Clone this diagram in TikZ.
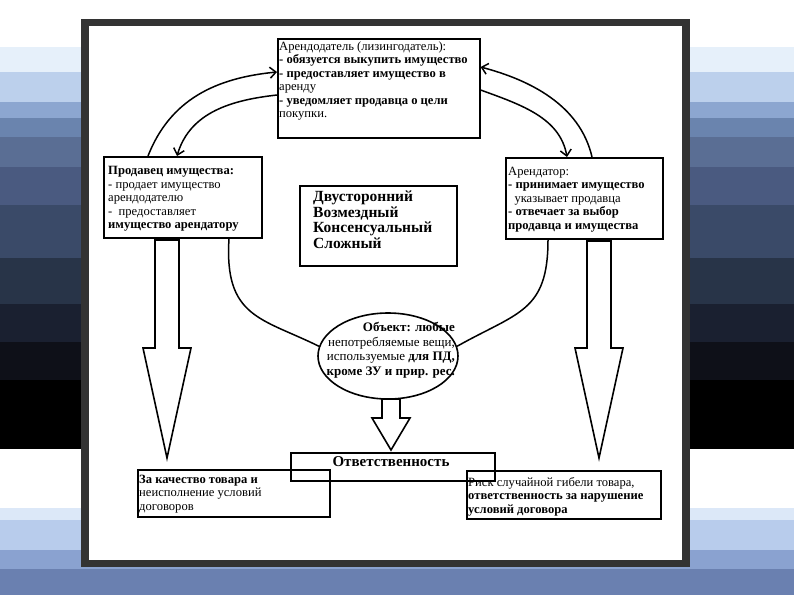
\documentclass[tikz,border=0pt]{standalone}
\usepackage{fontspec}
\setmainfont{Liberation Serif}
\usetikzlibrary{arrows.meta,shapes.geometric}
\definecolor{s1}{HTML}{E6F0FA}
\definecolor{s2}{HTML}{BCD0EC}
\definecolor{s3}{HTML}{8CA6D0}
\definecolor{s4}{HTML}{6A84AE}
\definecolor{s5}{HTML}{5A6E94}
\definecolor{s6}{HTML}{4A5A80}
\definecolor{s7}{HTML}{3A4A68}
\definecolor{s8}{HTML}{283448}
\definecolor{s9}{HTML}{1A2030}
\definecolor{s10}{HTML}{0E1018}
\definecolor{b1}{HTML}{DCE8F8}
\definecolor{b2}{HTML}{B8CCEC}
\definecolor{b3}{HTML}{8AA2D0}
\definecolor{b4}{HTML}{6A80B0}
\definecolor{framegray}{HTML}{333333}
\begin{document}
\begin{tikzpicture}[x=1pt,y=-1pt,
  box/.style={draw,line width=1.6pt,anchor=north west,inner sep=0pt},
  txt/.style={anchor=north west,inner sep=0pt,align=left,font=\fontsize{12.6}{13.5}\selectfont},
  conn/.style={line width=1.5pt,-{Straight Barb[length=6pt,width=11pt]}},
  plainline/.style={line width=1.5pt},
  hollow/.style={draw,line width=1.6pt,fill=white,line join=miter}]
% background
\useasboundingbox (0,0) rectangle (794,595);
\fill[white] (0,0) rectangle (794,595);
\foreach \a/\b/\c in {47/72/s1,72/102/s2,102/118/s3,118/137/s4,137/167/s5,167/205/s6,205/258/s7,258/304/s8,304/342/s9,342/380/s10,380/449/black,508/520/b1,520/550/b2,550/569/b3,569/595/b4}
  \fill[\c] (0,\a) rectangle (794,\b);
% frame
\fill[framegray] (81,19) rectangle (690,567);
\fill[white] (89,26) rectangle (682,560);

% boxes
\node[box,minimum width=202pt,minimum height=99pt] (top) at (277,38) {};
\node[txt] (toptext) at (279,41.5) {Арендодатель (лизингодатель):\\
\textbf{- обязуется выкупить имущество}\\
\textbf{- предоставляет имущество в}\\
аренду\\
\textbf{- уведомляет продавца о цели}\\
покупки.};

\node[box,minimum width=158pt,minimum height=81pt] (sell) at (103,156) {};
\node[txt] (selltext) at (108,166.5) {\textbf{Продавец имущества:}\\
- продает имущество\\
арендодателю\\
-\ \ предоставляет\\
\textbf{имущество арендатору}};

\node[box,minimum width=157pt,minimum height=81pt] (lessee) at (505,157) {};
\node[txt] (lesseetext) at (508,166.5) {Арендатор:\\
\textbf{- принимает имущество}\\
\ \ указывает продавца\\
\textbf{- отвечает за выбор}\\
\textbf{продавца и имущества}};

\node[box,minimum width=157pt,minimum height=80pt] (props) at (299,185) {};
\node[txt,font=\fontsize{15.5}{15.5}\selectfont\bfseries] (propstext) at (313,191) {Двусторонний\\Возмездный\\Консенсуальный\\Сложный};

\node[draw,ellipse,line width=1.6pt,minimum width=140pt,minimum height=86pt,inner sep=0pt] (obj) at (388,356) {};
\node[txt,anchor=north east,align=right,font=\fontsize{13}{14.5}\selectfont] (objtext) at (455,322) {\textbf{Объект: любые}\\
непотребляемые вещи,\\
используемые \textbf{для ПД,}\\
\textbf{кроме ЗУ и прир. рес.}};

\node[box,minimum width=204pt,minimum height=28pt] (resp) at (290,452) {};
\node[anchor=north,inner sep=0pt,font=\fontsize{15}{15}\selectfont\bfseries] (resptext) at (391,456.5) {Ответственность};

\node[box,minimum width=192pt,minimum height=47pt] (lq) at (137,469) {};
\node[txt] (lqtext) at (139,474.5) {\textbf{За качество товара и}\\
неисполнение условий\\
договоров};

\node[box,minimum width=194pt,minimum height=48pt] (rq) at (466,470) {};
\node[txt] (rqtext) at (468,477) {Риск случайной гибели товара,\\
\textbf{ответственность за нарушение}\\
\textbf{условий договора}};

% curved connectors
\draw[conn] ([xshift=45pt]sell.north west) .. controls (170,100) and (215,78) .. (top.west |- 0,72);
\draw[conn] (top.west |- 0,95) .. controls (232,100) and (190,112) .. ([xshift=74pt]sell.north west);
\draw[conn] ([xshift=87pt]lessee.north west) .. controls (580,105) and (530,80) .. (top.east |- 0,67);
\draw[conn] (top.east |- 0,90) .. controls (522,105) and (560,118) .. ([xshift=62pt]lessee.north west);

% lines to object
\draw[plainline] ([xshift=126pt]sell.south west) .. controls (224,318) and (262,318) .. (obj.172);
\draw[plainline] ([xshift=43pt]lessee.south west) .. controls (548,312) and (518,312) .. (obj.8);

% hollow arrows
\draw[hollow] (155,240) -- (179,240) -- (179,348) -- (191,348) -- (167,458) -- (143,348) -- (155,348) -- cycle;
\draw[hollow] (587,241) -- (611,241) -- (611,348) -- (623,348) -- (599,458) -- (575,348) -- (587,348) -- cycle;
\draw[hollow] (382,399) -- (400,399) -- (400,418) -- (410,418) -- (391,450) -- (372,418) -- (382,418) -- cycle;
\end{tikzpicture}
\end{document}
